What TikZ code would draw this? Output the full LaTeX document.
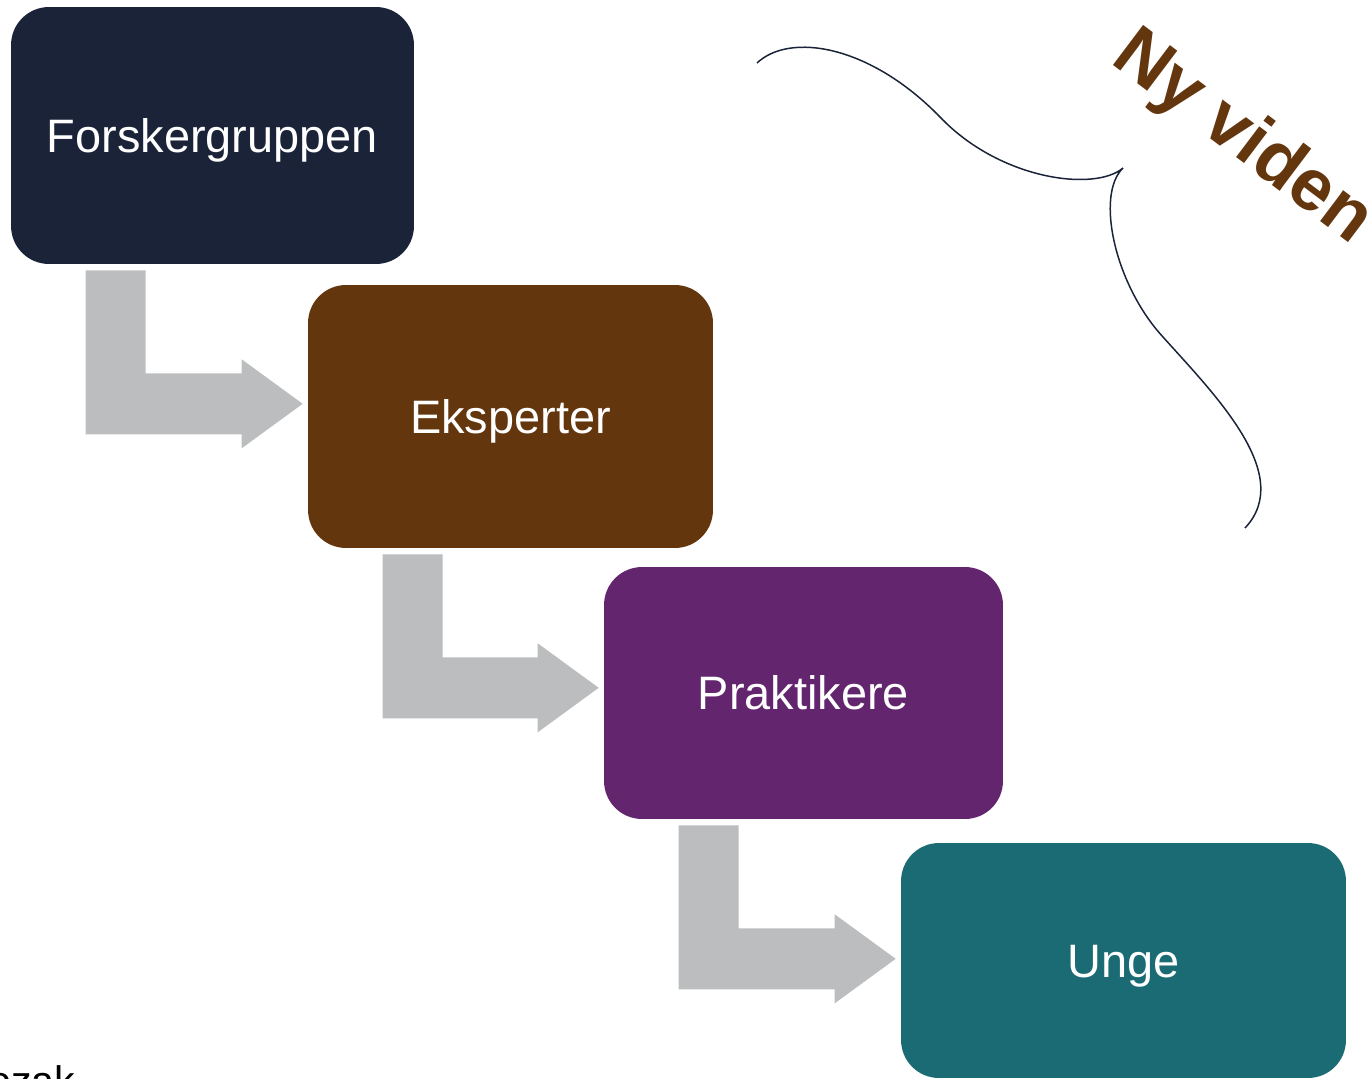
\documentclass[tikz,border=0pt]{standalone}
\usepackage{fontspec}
\setmainfont{Liberation Sans}
\usetikzlibrary{calc}
\definecolor{navy}{HTML}{1B2338}
\definecolor{brownbox}{HTML}{63360E}
\definecolor{purplebox}{HTML}{63266E}
\definecolor{tealbox}{HTML}{1A6B73}
\definecolor{arrowgray}{HTML}{BCBDBF}
\begin{document}
\begin{tikzpicture}[x=0.02cm, y=-0.02cm,
	stage/.style={rectangle, rounded corners=0.76cm, inner sep=0pt, text=white,
		font=\fontsize{26.7}{32}\selectfont, text height=19.1pt, text depth=0pt},
	bendarrow/.style={fill=arrowgray}]
	\useasboundingbox (0,0) rectangle (1371,1078);
	%boxes
	\node[stage, fill=navy, minimum width=8.06cm, minimum height=5.14cm] (forsker) at (212.5,135.5) {Forskergruppen};
	\node[stage, fill=brownbox, minimum width=8.10cm, minimum height=5.26cm] (eksperter) at (510.5,416.5) {Eksperter};
	\node[stage, fill=purplebox, minimum width=7.98cm, minimum height=5.04cm] (praktikere) at (803.5,693) {Praktikere};
	\node[stage, fill=tealbox, minimum width=8.90cm, minimum height=4.70cm] (unge) at (1123.5,960.5) {Unge};
	%arrows
	\foreach \a/\b in {forsker/eksperter, eksperter/praktikere, praktikere/unge}
	\fill[bendarrow] let \p1=($(\a.south west)+(75,6)$), \p2=($(\b.west)+(-5,0)$) in
		(\x1,\y1) -- (\x1+1.2cm,\y1) -- (\x1+1.2cm,\y1-2.06cm) -- (\x2-1.22cm,\y1-2.06cm)
		-- (\x2-1.22cm,\y1-1.78cm) -- (\x2,\y1-2.67cm) -- (\x2-1.22cm,\y1-3.56cm)
		-- (\x2-1.22cm,\y1-3.28cm) -- (\x1,\y1-3.28cm) -- cycle;
	%brace
	\draw[navy, line width=0.85pt] (757,63) .. controls (790,32) and (870,45) .. (940,117)
		.. controls (1000,180) and (1095,192) .. (1123,168) coordinate (cusp)
		.. controls (1095,195) and (1115,285) .. (1163,337)
		.. controls (1215,395) and (1295,475) .. (1245,528);
	%labels
	\node[anchor=base west, rotate=-37, inner sep=0pt, text=brownbox,
		font=\bfseries\fontsize{41.5}{49}\selectfont] (viden) at (1109,62) {Ny viden};
	\node[anchor=base west, inner sep=0pt, font=\fontsize{23.5}{28}\selectfont] (rest) at (-12,1095) {ozak};
\end{tikzpicture}
\end{document}
